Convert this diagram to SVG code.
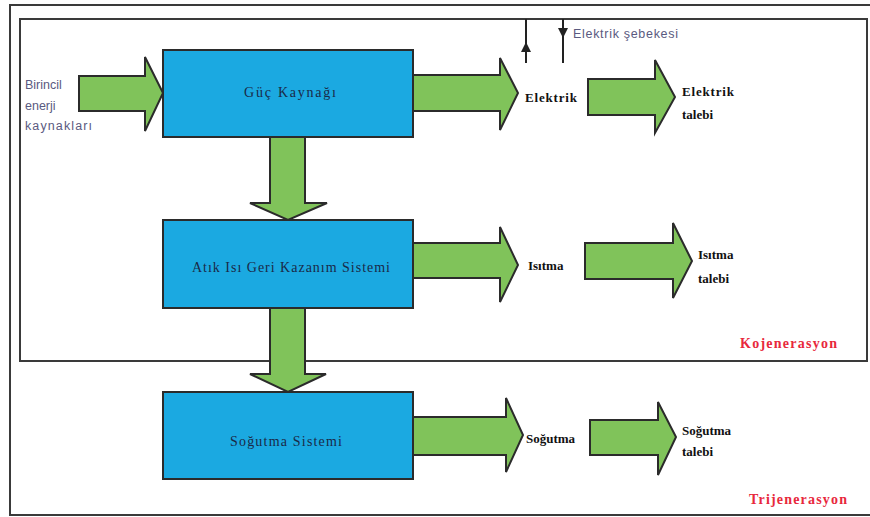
<svg xmlns="http://www.w3.org/2000/svg" width="870" height="517" viewBox="0 0 870 517">
<style>
.box{fill:#1ba9e1;stroke:#2b2b2b;stroke-width:2}
.arr{fill:#80c35a;stroke:#2b2b2b;stroke-width:2;stroke-linejoin:miter}
.bt{font-family:"Liberation Serif",serif;font-size:14px;fill:#1a2a48;text-anchor:middle}
.lb{font-family:"Liberation Serif",serif;font-size:13px;font-weight:bold;fill:#111}
.side{font-family:"Liberation Sans",sans-serif;font-size:12.5px;fill:#5a5a80}
.red{font-family:"Liberation Serif",serif;font-size:14px;font-weight:bold;fill:#e8283c}
.frame{fill:none;stroke:#3a3a3a;stroke-width:2}
</style>
<rect width="870" height="517" fill="#fff"/>
<g id="frames">
<rect class="frame" x="10" y="5" width="880" height="510"/>
<rect class="frame" x="20" y="19" width="847" height="342"/>
</g>
<g id="connectors">
<polygon class="arr" points="79,76 145,76 145,57 163,93 145,131 145,111 79,111"/>
<polygon class="arr" points="413,75 500,75 500,58 518,93 500,130 500,111 413,111"/>
<polygon class="arr" points="588,79 655,79 655,60 675,97 655,133 655,115 588,115"/>
<polygon class="arr" points="413,243 500,243 500,227 518,265 500,302 500,278 413,278"/>
<polygon class="arr" points="585,243 673,243 673,223 692,261 673,298 673,279 585,279"/>
<polygon class="arr" points="413,417 506,417 506,398 523,435 506,472 506,455 413,455"/>
<polygon class="arr" points="590,420 658,420 658,402 676,437 658,475 658,455 590,455"/>
<polygon class="arr" points="270,137 305,137 305,203 327,203 288,220 250,203 270,203"/>
<polygon class="arr" points="270,308 305,308 305,374 326,374 288,392 250,374 270,374"/>
<line x1="526" y1="63" x2="526" y2="19" stroke="#222" stroke-width="2"/>
<path d="M521,52 L526,42 L531,52 z" fill="#222"/>
<line x1="563" y1="19" x2="563" y2="63" stroke="#222" stroke-width="2"/>
<path d="M558,28 L568,28 L563,38 z" fill="#222"/>
</g>
<g id="guc">
<rect class="box" x="163" y="50" width="250" height="87"/>
<text class="bt" x="290" y="97" textLength="92" lengthAdjust="spacing">Güç Kaynağı</text>
</g>
<g id="atik">
<rect class="box" x="163" y="220" width="250" height="88"/>
<text class="bt" x="291" y="272" textLength="198" lengthAdjust="spacing">Atık Isı Geri Kazanım Sistemi</text>
</g>
<g id="sogutma">
<rect class="box" x="163" y="392" width="250" height="87"/>
<text class="bt" x="286" y="446" textLength="112" lengthAdjust="spacing">Soğutma Sistemi</text>
</g>
<g id="birincil">
<text class="side" x="25" y="89">Birincil</text>
<text class="side" x="25" y="110">enerji</text>
<text class="side" x="25" y="130" textLength="67" lengthAdjust="spacing">kaynakları</text>
</g>
<g id="sebeke">
<text class="side" x="573" y="38" font-size="12" textLength="105" lengthAdjust="spacing">Elektrik şebekesi</text>
</g>
<g id="labels">
<text class="lb" x="525" y="102" textLength="52" lengthAdjust="spacing">Elektrik</text>
<text class="lb" x="682" y="96" textLength="52" lengthAdjust="spacing">Elektrik</text>
<text class="lb" x="682" y="119">talebi</text>
<text class="lb" x="528" y="270">Isıtma</text>
<text class="lb" x="698" y="259">Isıtma</text>
<text class="lb" x="698" y="283">talebi</text>
<text class="lb" x="526" y="443">Soğutma</text>
<text class="lb" x="682" y="435">Soğutma</text>
<text class="lb" x="682" y="456">talebi</text>
<text class="red" x="740" y="348" textLength="97" lengthAdjust="spacing">Kojenerasyon</text>
<text class="red" x="749" y="504" textLength="98" lengthAdjust="spacing">Trijenerasyon</text>
</g>
</svg>
